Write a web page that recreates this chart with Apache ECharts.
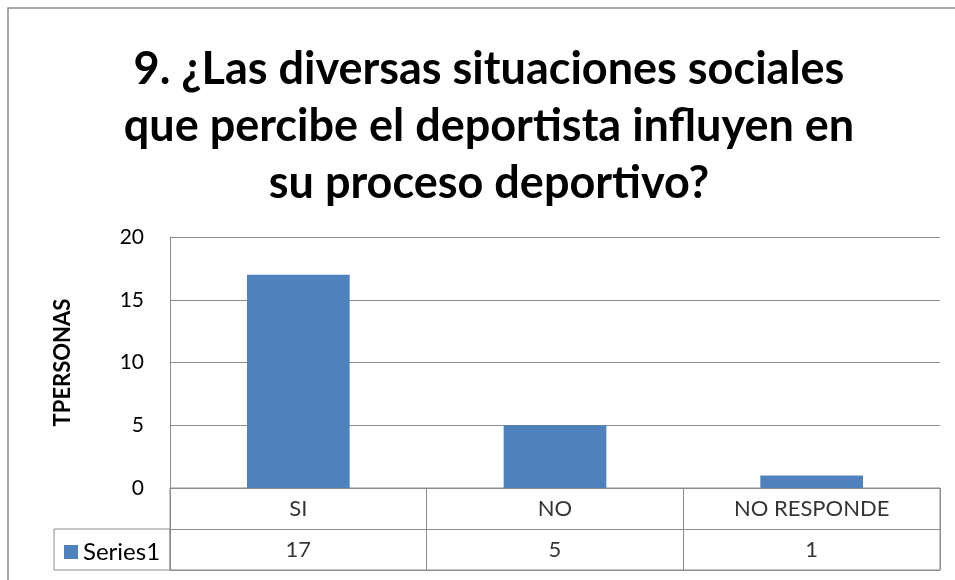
<!DOCTYPE html>
<html><head><meta charset="utf-8">
<script src="https://cdn.jsdelivr.net/npm/echarts@6/dist/echarts.min.js"></script>
<style>html,body{margin:0;padding:0;background:#fff}#c{width:955px;height:580px}</style>
</head><body><div id="c"></div>
<script>
const titleText = "9. ¿Las diversas situaciones sociales\nque percibe el deportista influyen en\nsu proceso deportivo?";
const categories = ["SI", "NO", "NO RESPONDE"];
const seriesName = "Series1";
const values = [17, 5, 1];
const yTicks = [0, 5, 10, 15, 20];
const yAxisTitle = "TPERSONAS";

const FONT = "Lato";
const gridLine = "#8c8c8c";
const chart = echarts.init(document.getElementById('c'), null, {renderer: 'canvas'});
chart.setOption({
  animation: false,
  backgroundColor: '#fff',
  title: {
    text: titleText, left: 484, top: 36, textAlign: 'center',
    textStyle: {fontFamily: FONT, fontWeight: 'bold', fontSize: 45, lineHeight: 57, color: '#000'}
  },
  legend: {
    data: [{name: seriesName, icon: 'rect'}], left: 59, top: 535,
    itemWidth: 14, itemHeight: 14, itemGap: 6,
    textStyle: {fontFamily: FONT, fontSize: 24, color: '#000'}
  },
  grid: [
    {left: 170, right: 15, top: 237, bottom: 92, containLabel: false},
    {left: 170, right: 15, top: 488, bottom: 10, show: true, borderColor: gridLine, borderWidth: 1}
  ],
  xAxis: [
    {type: 'category', gridIndex: 0, data: categories, axisLine: {show: false}, axisTick: {show: false}, axisLabel: {show: false}},
    {type: 'category', gridIndex: 1, data: categories, axisLine: {show: false}, axisTick: {show: false}, axisLabel: {show: false},
     splitLine: {show: true, lineStyle: {color: gridLine, width: 1}}}
  ],
  yAxis: [
    {type: 'value', gridIndex: 0, min: yTicks[0], max: yTicks[yTicks.length-1], interval: yTicks[1]-yTicks[0],
     axisLine: {show: true, lineStyle: {color: gridLine}}, axisTick: {show: false},
     axisLabel: {margin: 26, fontFamily: FONT, fontSize: 21, color: '#000'},
     splitLine: {lineStyle: {color: gridLine, width: 1}},
     name: yAxisTitle, nameLocation: 'middle', nameGap: 96, nameRotate: 90,
     nameTextStyle: {fontFamily: FONT, fontWeight: 'bold', fontSize: 22, color: '#000'}},
    {type: 'value', gridIndex: 1, min: 0, max: 2, interval: 1, axisLine: {show: false}, axisTick: {show: false}, axisLabel: {show: false},
     splitLine: {show: true, lineStyle: {color: gridLine, width: 1}}}
  ],
  series: [
    {name: seriesName, type: 'bar', xAxisIndex: 0, yAxisIndex: 0, data: values, barWidth: '40%',
     itemStyle: {color: '#4F81BD'}},
    {name: 'catLabels', type: 'scatter', xAxisIndex: 1, yAxisIndex: 1, symbolSize: 0, silent: true,
     data: categories.map((c, i) => [i, 1.5]),
     label: {show: true, position: 'inside', formatter: p => categories[p.dataIndex], fontFamily: FONT, fontSize: 22, color: '#000'}},
    {name: 'valLabels', type: 'scatter', xAxisIndex: 1, yAxisIndex: 1, symbolSize: 0, silent: true,
     data: values.map((v, i) => [i, 0.5]),
     label: {show: true, position: 'inside', formatter: p => String(values[p.dataIndex]), fontFamily: FONT, fontSize: 22, color: '#000'}}
  ],
  graphic: [
    {type: 'rect', shape: {x: 8, y: 8, width: 960, height: 590}, style: {fill: 'none', stroke: '#8c8c8c', lineWidth: 1.5}, silent: true},
    {type: 'rect', shape: {x: 54, y: 529, width: 116, height: 41}, style: {fill: 'none', stroke: gridLine, lineWidth: 1}, silent: true}
  ]
});
</script></body></html>
